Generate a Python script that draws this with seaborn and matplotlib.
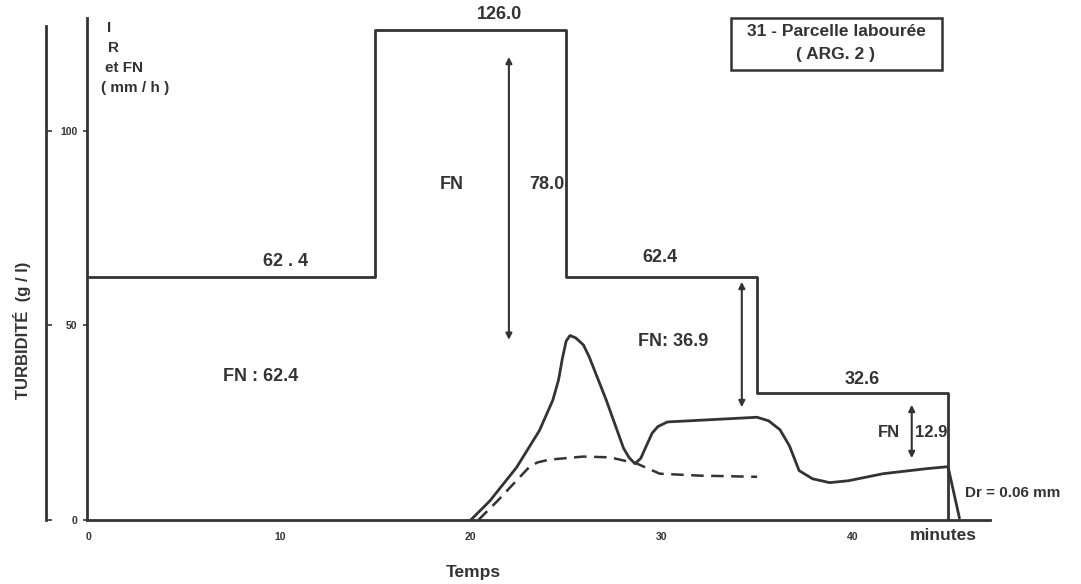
import matplotlib
matplotlib.use("Agg")
import matplotlib.pyplot as plt
import seaborn as sns
import pandas as pd
from matplotlib.patches import Rectangle

# ---- data ----
rain_time = [0, 15, 25, 35, 45]
rain_rate = [62.4, 126.0, 62.4, 32.6, 0.0]

turb_time = [20.0, 21.0, 22.4, 23.6, 24.3, 24.6, 24.8, 25.0, 25.2, 25.5, 25.9, 26.2,
             27.1, 28.0, 28.3, 28.6, 28.9, 29.5, 29.8, 30.3, 31.1, 34.6, 35.0, 35.6,
             36.2, 36.7, 37.2, 37.9, 38.8, 39.8, 41.6, 43.9, 45.0, 45.2, 45.6]
turb_val = [0.0, 4.9, 13.5, 23.0, 30.8, 36.0, 41.5, 46.0, 47.4, 46.8, 45.0, 42.0,
            30.8, 18.5, 16.0, 14.5, 15.8, 22.3, 24.0, 25.2, 25.4, 26.3, 26.4, 25.5,
            23.2, 19.0, 12.7, 10.6, 9.6, 10.1, 11.9, 13.2, 13.7, 9.3, 0.5]

dash_time = [20.4, 21.4, 23.1, 23.5, 24.1, 25.9, 27.3, 28.7, 29.9, 32.0, 35.0]
dash_val = [0.0, 4.9, 13.8, 14.8, 15.5, 16.3, 16.1, 14.5, 11.9, 11.4, 11.1]

x_ticks = [0, 10, 20, 30, 40]
y_ticks = [0, 50, 100]

sns.set_theme(style="white")
plt.rcParams['font.family'] = ['Liberation Sans', 'DejaVu Sans']
plt.rcParams['font.weight'] = 'bold'

C = "#333333"

fig = plt.figure(figsize=(10.81, 5.84), dpi=100)
ax = fig.add_axes([87 / 1081, 1 - 520 / 584, (990 - 87) / 1081, (520 - 18) / 584])

rain_df = pd.DataFrame({"t": rain_time, "r": rain_rate})
turb_df = pd.DataFrame({"t": turb_time, "v": turb_val})
dash_df = pd.DataFrame({"t": dash_time, "v": dash_val})

sns.lineplot(data=rain_df, x="t", y="r", ax=ax, color=C, lw=2.0,
             drawstyle="steps-post", sort=False)
sns.lineplot(data=turb_df, x="t", y="v", ax=ax, color=C, lw=2.0, sort=False,
             solid_joinstyle="round")
sns.lineplot(data=dash_df, x="t", y="v", ax=ax, color=C, lw=1.8, sort=False,
             linestyle=(0, (5, 3)))

ax.set_xlim(-0.1, 47.2)
ax.set_ylim(0, 129)
ax.set_xlabel("")
ax.set_ylabel("")

for s in ["top", "right"]:
    ax.spines[s].set_visible(False)
for s in ["left", "bottom"]:
    ax.spines[s].set_color(C)
    ax.spines[s].set_linewidth(2.0)

ax.set_xticks(x_ticks)
ax.set_xticklabels([str(v) for v in x_ticks], fontsize=7.5, fontweight="bold", color=C)
ax.set_yticks(y_ticks)
ax.set_yticklabels([str(v) for v in y_ticks], fontsize=7.5, fontweight="bold", color=C)
ax.tick_params(axis="x", direction="inout", length=5, width=1.2, color=C, pad=6)
ax.tick_params(axis="y", direction="out", length=3, width=1.2, color=C, pad=4)

# outer turbidity axis
ax2 = ax.twinx()
ax2.set_ylim(ax.get_ylim())
ax2.spines["right"].set_visible(False)
ax2.spines["top"].set_visible(False)
ax2.spines["bottom"].set_visible(False)
ax2.spines["left"].set_visible(True)
ax2.spines["left"].set_position(("outward", 29.5))
ax2.spines["left"].set_color(C)
ax2.spines["left"].set_linewidth(2.0)
ax2.spines["left"].set_bounds(0, 127)
ax2.yaxis.set_ticks_position("left")
ax2.set_yticks(y_ticks)
ax2.set_yticklabels([])
ax2.tick_params(axis="y", direction="in", length=4, width=1.2, color=C)
ax2.grid(False)

# arrows
arrow_kw = dict(arrowstyle="<|-|>", color=C, lw=1.5, mutation_scale=9,
                shrinkA=0, shrinkB=0)
for xa, y0, y1 in [(22.0, 46.3, 119.0), (34.2, 29.0, 61.2), (43.1, 15.9, 29.6)]:
    ax.annotate("", xy=(xa, y0), xytext=(xa, y1), arrowprops=arrow_kw)

tk = dict(color=C, fontweight="bold", ha="center", va="center", clip_on=False)
ax.text(10.3, 66.3, "62 . 4", fontsize=13, **tk)
ax.text(21.5, 129.8, "126.0", fontsize=13, **tk)
ax.text(19.0, 86.1, "FN", fontsize=13, **tk)
ax.text(24.0, 86.1, "78.0", fontsize=13, **tk)
ax.text(29.9, 67.4, "62.4", fontsize=13, **tk)
ax.text(30.6, 45.8, "FN: 36.9", fontsize=13, **tk)
ax.text(40.5, 36.0, "32.6", fontsize=13, **tk)
ax.text(41.9, 22.4, "FN", fontsize=12, **tk)
ax.text(44.1, 22.4, "12.9", fontsize=12, **tk)
ax.text(9.0, 36.8, "FN : 62.4", fontsize=13, **tk)
ax.text(45.9, 6.9, "Dr = 0.06 mm", fontsize=11, color=C, fontweight="bold",
        ha="left", va="center", clip_on=False)

# figure-level texts (pixel positions)
def ftext(px, py, s, **kw):
    fig.text(px / 1081, 1 - py / 584, s, **kw)

ftext(943, 535, "minutes", fontsize=12.5, color=C, fontweight="bold", ha="center", va="center")
ftext(473, 572, "Temps", fontsize=12.5, color=C, fontweight="bold", ha="center", va="center")
ftext(22, 330, "TURBIDITÉ  (g / l)", fontsize=12, color=C, fontweight="bold",
      ha="center", va="center", rotation=90)
ftext(107, 28, "I", fontsize=11, color=C, fontweight="bold", ha="left", va="center")
ftext(108, 48, "R", fontsize=11, color=C, fontweight="bold", ha="left", va="center")
ftext(105, 68, "et FN", fontsize=11, color=C, fontweight="bold", ha="left", va="center")
ftext(101, 88, "( mm / h )", fontsize=11, color=C, fontweight="bold", ha="left", va="center")

# title box
fig.patches.append(Rectangle((731 / 1081, 1 - 70 / 584), (942 - 731) / 1081, 52 / 584,
                             transform=fig.transFigure, fill=False, edgecolor=C, lw=1.8))
ftext(836, 32, "31 - Parcelle labourée", fontsize=12.5, color=C, fontweight="bold",
      ha="center", va="center")
ftext(836, 54, "( ARG. 2 )", fontsize=12.5, color=C, fontweight="bold",
      ha="center", va="center")

fig.savefig("out.png", dpi=100, facecolor="white")
